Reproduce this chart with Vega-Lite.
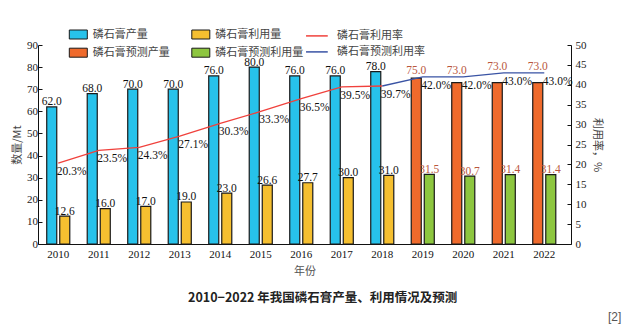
{
  "$schema": "https://vega.github.io/schema/vega-lite/v6.json",
  "width": 533,
  "height": 199,
  "autosize": {"type": "none"},
  "padding": {"left": 38, "top": 45, "right": 73, "bottom": 90},
  "background": "white",
  "config": {
    "view": {"stroke": null},
    "font": "Liberation Serif",
    "legend": {"labelFont": "Noto Sans CJK SC", "labelFontSize": 11, "labelColor": "#444", "padding": 0, "titlePadding": 0}
  },
  "title": {
    "text": "2010−2022 年我国磷石膏产量、利用情况及预测",
    "orient": "bottom",
    "anchor": "start",
    "frame": "group",
    "dx": 150,
    "offset": -31,
    "font": "Noto Sans CJK SC",
    "fontSize": 12.5,
    "fontWeight": "bold",
    "color": "#222"
  },
  "datasets": {
    "bars": [
      {"year": "2010", "kind": "产量", "series": "磷石膏产量", "value": 62.0},
      {"year": "2010", "kind": "利用量", "series": "磷石膏利用量", "value": 12.6},
      {"year": "2011", "kind": "产量", "series": "磷石膏产量", "value": 68.0},
      {"year": "2011", "kind": "利用量", "series": "磷石膏利用量", "value": 16.0},
      {"year": "2012", "kind": "产量", "series": "磷石膏产量", "value": 70.0},
      {"year": "2012", "kind": "利用量", "series": "磷石膏利用量", "value": 17.0},
      {"year": "2013", "kind": "产量", "series": "磷石膏产量", "value": 70.0},
      {"year": "2013", "kind": "利用量", "series": "磷石膏利用量", "value": 19.0},
      {"year": "2014", "kind": "产量", "series": "磷石膏产量", "value": 76.0},
      {"year": "2014", "kind": "利用量", "series": "磷石膏利用量", "value": 23.0},
      {"year": "2015", "kind": "产量", "series": "磷石膏产量", "value": 80.0},
      {"year": "2015", "kind": "利用量", "series": "磷石膏利用量", "value": 26.6},
      {"year": "2016", "kind": "产量", "series": "磷石膏产量", "value": 76.0},
      {"year": "2016", "kind": "利用量", "series": "磷石膏利用量", "value": 27.7},
      {"year": "2017", "kind": "产量", "series": "磷石膏产量", "value": 76.0},
      {"year": "2017", "kind": "利用量", "series": "磷石膏利用量", "value": 30.0},
      {"year": "2018", "kind": "产量", "series": "磷石膏产量", "value": 78.0},
      {"year": "2018", "kind": "利用量", "series": "磷石膏利用量", "value": 31.0},
      {"year": "2019", "kind": "产量", "series": "磷石膏预测产量", "value": 75.0},
      {"year": "2019", "kind": "利用量", "series": "磷石膏预测利用量", "value": 31.5},
      {"year": "2020", "kind": "产量", "series": "磷石膏预测产量", "value": 73.0},
      {"year": "2020", "kind": "利用量", "series": "磷石膏预测利用量", "value": 30.7},
      {"year": "2021", "kind": "产量", "series": "磷石膏预测产量", "value": 73.0},
      {"year": "2021", "kind": "利用量", "series": "磷石膏预测利用量", "value": 31.4},
      {"year": "2022", "kind": "产量", "series": "磷石膏预测产量", "value": 73.0},
      {"year": "2022", "kind": "利用量", "series": "磷石膏预测利用量", "value": 31.4}
    ],
    "rates": [
      {"year": "2010", "series": "磷石膏利用率", "rate": 20.3},
      {"year": "2011", "series": "磷石膏利用率", "rate": 23.5},
      {"year": "2012", "series": "磷石膏利用率", "rate": 24.3},
      {"year": "2013", "series": "磷石膏利用率", "rate": 27.1},
      {"year": "2014", "series": "磷石膏利用率", "rate": 30.3},
      {"year": "2015", "series": "磷石膏利用率", "rate": 33.3},
      {"year": "2016", "series": "磷石膏利用率", "rate": 36.5},
      {"year": "2017", "series": "磷石膏利用率", "rate": 39.5},
      {"year": "2018", "series": "磷石膏利用率", "rate": 39.7},
      {"year": "2018", "series": "磷石膏预测利用率", "rate": 39.7},
      {"year": "2019", "series": "磷石膏预测利用率", "rate": 42.0, "prod": 75.0},
      {"year": "2020", "series": "磷石膏预测利用率", "rate": 42.0, "prod": 73.0},
      {"year": "2021", "series": "磷石膏预测利用率", "rate": 43.0, "prod": 73.0},
      {"year": "2022", "series": "磷石膏预测利用率", "rate": 43.0, "prod": 73.0}
    ],
    "note": [{"note": "[2]"}]
  },
  "encoding": {
    "x": {
      "field": "year",
      "type": "nominal",
      "scale": {
        "type": "band",
        "domain": ["2010", "2011", "2012", "2013", "2014", "2015", "2016", "2017", "2018", "2019", "2020", "2021", "2022"],
        "paddingInner": 0,
        "paddingOuter": 0.08,
        "align": 0
      },
      "axis": {
        "orient": "bottom",
        "ticks": false,
        "domainColor": "#111",
        "domainWidth": 1,
        "labelAngle": 0,
        "labelFont": "Liberation Serif",
        "labelFontSize": 11,
        "labelColor": "#111",
        "labelPadding": 4,
        "title": "年份",
        "titleFont": "Noto Sans CJK SC",
        "titleFontSize": 11,
        "titleFontWeight": "normal",
        "titleColor": "#555",
        "titlePadding": 6
      }
    }
  },
  "layer": [
    {
      "data": {"name": "bars"},
      "encoding": {
        "xOffset": {
          "field": "kind",
          "type": "nominal",
          "scale": {"domain": ["产量", "利用量"], "paddingInner": 0.23, "paddingOuter": 0.67}
        },
        "y": {
          "field": "value",
          "type": "quantitative",
          "scale": {"domain": [0, 90], "nice": false},
          "axis": {
            "orient": "left",
            "values": [0, 10, 20, 30, 40, 50, 60, 70, 80, 90],
            "grid": false,
            "domainColor": "#111",
            "tickColor": "#111",
            "tickSize": -4,
            "labelPadding": 4.5,
            "labelFont": "Liberation Serif",
            "labelFontSize": 11,
            "labelColor": "#222",
            "title": "数量/Mt",
            "titleFont": "Noto Sans CJK SC",
            "titleFontSize": 11,
            "titleFontWeight": "normal",
            "titleColor": "#444",
            "titlePadding": 4
          }
        }
      },
      "layer": [
        {
          "mark": {"type": "bar", "stroke": "#1a1a1a", "strokeWidth": 1.2},
          "encoding": {
            "fill": {
              "field": "series",
              "type": "nominal",
              "scale": {
                "domain": ["磷石膏产量", "磷石膏利用量", "磷石膏预测产量", "磷石膏预测利用量"],
                "range": ["#27C2EB", "#F5BF30", "#EF6A2C", "#8DC63F"]
              },
              "legend": {
                "orient": "none",
                "legendX": 34.8,
                "legendY": -16,
                "direction": "horizontal",
                "columns": 2,
                "title": null,
                "symbolType": "M-2,-1H2V1H-2Z",
                "symbolSize": 81,
                "symbolStrokeColor": "#1a1a1a",
                "symbolStrokeWidth": 1,
                "symbolOpacity": 1,
                "labelOffset": 8.9,
                "columnPadding": 19.5,
                "rowPadding": 5.2
              }
            }
          }
        },
        {
          "transform": [{"filter": "!(datum.kind == '产量' && indexof(datum.series, '预测') >= 0)"}],
          "mark": {"type": "text", "font": "Liberation Serif", "fontSize": 11.5, "baseline": "alphabetic", "dy": -1.5},
          "encoding": {
            "text": {"field": "value", "type": "quantitative", "format": ".1f"},
            "color": {
              "condition": {"test": "indexof(datum.series, '预测') >= 0", "value": "#B9573E"},
              "value": "#111"
            }
          }
        }
      ]
    },
    {
      "data": {"name": "rates"},
      "encoding": {
        "y": {
          "field": "rate",
          "type": "quantitative",
          "scale": {"domain": [0, 50], "nice": false},
          "axis": {
            "orient": "right",
            "values": [0, 5, 10, 15, 20, 25, 30, 35, 40, 45, 50],
            "grid": false,
            "domainColor": "#111",
            "tickColor": "#111",
            "tickSize": -4,
            "labelPadding": 8,
            "labelFont": "Liberation Serif",
            "labelFontSize": 11,
            "labelColor": "#222",
            "title": "利用率，%",
            "titleFont": "Noto Sans CJK SC",
            "titleFontSize": 11,
            "titleFontWeight": "normal",
            "titleColor": "#444",
            "titlePadding": 5
          }
        }
      },
      "layer": [
        {
          "mark": {"type": "line", "strokeWidth": 1.3},
          "encoding": {
            "stroke": {
              "field": "series",
              "type": "nominal",
              "scale": {"domain": ["磷石膏利用率", "磷石膏预测利用率"], "range": ["#F0413C", "#3953A4"]},
              "legend": {
                "orient": "none",
                "legendX": 272.4,
                "legendY": -15.6,
                "direction": "vertical",
                "title": null,
                "symbolType": "M-2,0H2",
                "symbolSize": 118,
                "symbolStrokeWidth": 1.5,
                "labelOffset": 13.7,
                "rowPadding": 4
              }
            }
          }
        },
        {
          "transform": [
            {"filter": "!(datum.series == '磷石膏预测利用率' && datum.year == '2018')"},
            {"calculate": "format(datum.rate, '.1f') + '%'", "as": "label"}
          ],
          "mark": {"type": "text", "font": "Liberation Serif", "fontSize": 11.5, "align": "left", "baseline": "top", "dx": -1.5, "dy": 3, "color": "#111"},
          "encoding": {
            "text": {"field": "label", "type": "nominal"}
          }
        },
        {
          "transform": [{"filter": "isValid(datum.prod)"}],
          "mark": {"type": "text", "font": "Liberation Serif", "fontSize": 11.5, "align": "center", "baseline": "alphabetic", "dx": -6.5, "dy": -2.5, "color": "#B9573E"},
          "encoding": {
            "text": {"field": "prod", "type": "quantitative", "format": ".1f"}
          }
        },
        {
          "data": {"name": "note"},
          "mark": {"type": "point", "opacity": 0},
          "encoding": {
            "shape": {
              "field": "note",
              "type": "nominal",
              "scale": {"domain": ["[2]"]},
              "legend": {
                "orient": "none",
                "legendX": 558,
                "legendY": 266,
                "title": null,
                "symbolSize": 0,
                "symbolOpacity": 0,
                "labelOffset": 0,
                "labelFont": "Liberation Sans",
                "labelFontSize": 12,
                "labelColor": "#555"
              }
            }
          }
        }
      ]
    }
  ],
  "resolve": {"scale": {"y": "independent"}}
}
